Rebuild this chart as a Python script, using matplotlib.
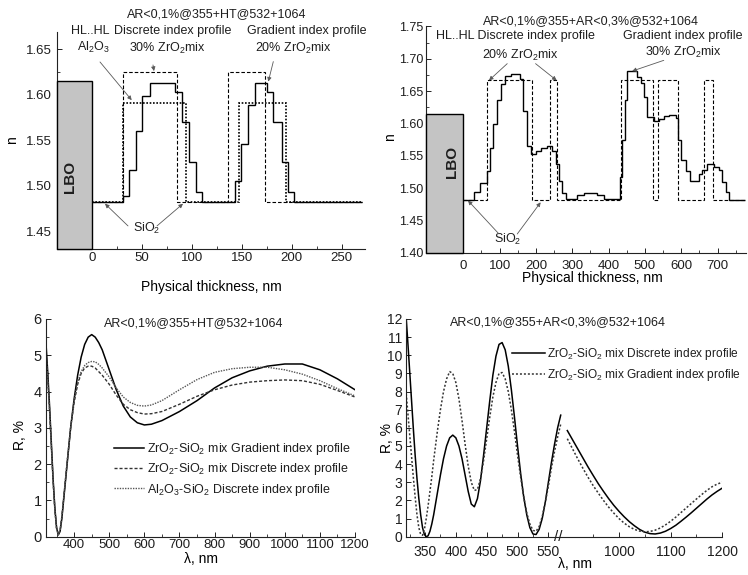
import numpy as np
import matplotlib
matplotlib.use("Agg")
import matplotlib.pyplot as plt
from matplotlib.patches import Rectangle
from matplotlib.ticker import MultipleLocator, FixedLocator

plt.rcParams["font.family"] = ["Liberation Sans", "DejaVu Sans"]
plt.rcParams["mathtext.fontset"] = "custom"
plt.rcParams["mathtext.rm"] = "Liberation Sans"
plt.rcParams["mathtext.it"] = "Liberation Sans:italic"
INK = "#1e1e1e"
plt.rcParams["text.color"] = INK
W, H = 748, 575

# ---------------- data ----------------
SIO2_N = 1.482
LBO_N = 1.615

# (a) AR<0,1%@355+HT@532+1064 : index profiles vs physical thickness (nm)
a_grad_edges = [0, 31, 37.7, 44.3, 50.3, 58.3, 83.7, 90.3, 97, 104.3, 110.3,
                143.7, 149.3, 156.3, 163, 175, 181.7, 190.3, 196.3, 202, 270]
a_grad_n = [1.482, 1.488, 1.517, 1.560, 1.598, 1.613, 1.603, 1.570, 1.526, 1.493,
            1.482, 1.505, 1.546, 1.589, 1.613, 1.603, 1.570, 1.526, 1.493, 1.482]
a_zr_edges = [0, 31, 85, 136, 173, 270]
a_zr_n = [1.482, 1.625, 1.482, 1.625, 1.482]
a_al_edges = [0, 31, 94, 147, 194, 270]
a_al_n = [1.482, 1.591, 1.482, 1.591, 1.482]

# (b) AR<0,1%@355+AR<0,3%@532+1064
b_grad_edges = [0, 29.4, 45.9, 66.1, 73.4, 82.6, 93.6, 102.8, 113.8, 130.3,
                156, 165.1, 174.3, 185.3, 199.1, 212.8, 229.4, 245, 254.1, 263.3,
                272.5, 281.7, 313.8, 332.1, 368.8, 387.2, 431.2, 437.6, 444, 451.4,
                478.9, 488.1, 497.2, 504.6, 524.8, 538.5, 552.3, 566.1, 584.4, 590.8,
                600, 611.9, 623.9, 648.6, 657.8, 671.6, 689.9, 703.7, 712.8, 722,
                731.2, 775]
b_grad_n = [1.482, 1.495, 1.508, 1.527, 1.563, 1.600, 1.636, 1.661, 1.673, 1.677,
            1.669, 1.620, 1.566, 1.553, 1.557, 1.563, 1.565, 1.558, 1.538, 1.512,
            1.492, 1.483, 1.489, 1.4925, 1.489, 1.483, 1.517, 1.574, 1.636, 1.682,
            1.672, 1.662, 1.641, 1.610, 1.604, 1.607, 1.611, 1.613, 1.609, 1.574,
            1.543, 1.527, 1.512, 1.522, 1.528, 1.537, 1.533, 1.528, 1.510, 1.494,
            1.482]
b_disc_edges = [0, 66, 188, 237.6, 258.7, 434.9, 523, 536.7, 590.8, 662.4, 686.2, 775]
b_disc_n = [1.482, 1.667, 1.482, 1.667, 1.482, 1.667, 1.482, 1.667, 1.482, 1.667, 1.482]

# (c) reflectance, HT design
c_lam = [320, 325, 330, 335, 340, 345, 350, 355, 360, 365, 370, 380, 390, 400, 410,
         420, 430, 440, 450, 460, 470, 480, 500, 520, 540, 560, 580, 600, 620, 650,
         700, 750, 800, 850, 900, 950, 1000, 1050, 1100, 1150, 1200]
c_zr_grad = [5.3, 4.5, 3.6, 2.6, 1.6, 0.8, 0.25, 0.05, 0.15, 0.5, 1.0, 2.0, 3.0, 3.8, 4.45,
             4.95, 5.3, 5.5, 5.57, 5.5, 5.35, 5.15, 4.6, 4.05, 3.6, 3.3, 3.14, 3.08, 3.1, 3.2,
             3.45, 3.75, 4.1, 4.38, 4.57, 4.7, 4.76, 4.76, 4.6, 4.35, 4.05]
c_zr_disc = [5.1, 4.35, 3.5, 2.5, 1.55, 0.75, 0.22, 0.05, 0.17, 0.55, 1.05, 2.05, 3.0, 3.7, 4.2,
             4.5, 4.65, 4.7, 4.7, 4.65, 4.55, 4.45, 4.2, 3.9, 3.65, 3.5, 3.42, 3.38, 3.39, 3.45,
             3.65, 3.87, 4.05, 4.18, 4.26, 4.3, 4.32, 4.3, 4.2, 4.03, 3.85]
c_al_disc = [5.0, 4.3, 3.45, 2.5, 1.55, 0.75, 0.22, 0.06, 0.18, 0.55, 1.05, 2.05, 3.0, 3.75, 4.25,
             4.55, 4.72, 4.8, 4.83, 4.82, 4.75, 4.65, 4.4, 4.1, 3.85, 3.7, 3.62, 3.6, 3.63, 3.75,
             4.05, 4.33, 4.53, 4.63, 4.67, 4.67, 4.6, 4.48, 4.3, 4.08, 3.88]

# (d) reflectance, AR@532+1064 design (broken wavelength axis)
d_lam_lo = [319, 322, 325, 328, 331, 334, 337, 340, 343, 346, 349, 352, 355, 358, 361,
            364, 367, 370, 375, 380, 385, 390, 395, 400, 405, 410, 415, 420, 425, 430,
            435, 440, 445, 450, 455, 460, 465, 470, 475, 480, 485, 490, 495, 500, 505,
            510, 515, 520, 525, 530, 535, 540, 545, 550, 555, 560, 565, 570]
d_disc_lo = [12.3, 10.8, 9.2, 7.6, 6.0, 4.5, 3.2, 2.1, 1.2, 0.5, 0.12, 0.0, 0.05, 0.3, 0.7,
             1.2, 1.8, 2.4, 3.4, 4.3, 5.0, 5.45, 5.6, 5.45, 5.0, 4.3, 3.4, 2.5, 1.8, 1.65,
             2.1, 3.1, 4.5, 6.0, 7.5, 8.9, 9.95, 10.6, 10.7, 10.3, 9.4, 8.1, 6.6, 5.0, 3.5,
             2.2, 1.2, 0.5, 0.15, 0.12, 0.4, 1.0, 1.9, 3.0, 4.1, 5.1, 6.0, 6.7]
d_grad_lo = [8.1, 6.9, 5.7, 4.5, 3.3, 2.2, 1.2, 0.5, 0.12, 0.08, 0.4, 1.0, 1.7, 2.5, 3.3,
             4.2, 5.0, 5.8, 7.0, 8.0, 8.7, 9.1, 9.0, 8.5, 7.6, 6.4, 5.1, 3.9, 3.0, 2.55,
             2.6, 3.2, 4.2, 5.4, 6.6, 7.7, 8.5, 9.0, 9.05, 8.7, 8.0, 7.0, 5.8, 4.5, 3.3,
             2.2, 1.3, 0.7, 0.35, 0.3, 0.55, 1.1, 1.9, 2.8, 3.8, 4.7, 5.5, 6.2]
d_lam_hi = [900, 910, 920, 930, 940, 950, 960, 970, 980, 990, 1000, 1010, 1020, 1030, 1040,
            1050, 1060, 1070, 1080, 1090, 1100, 1110, 1120, 1130, 1140, 1150, 1160, 1170,
            1180, 1190, 1200]
d_disc_hi = [5.85, 5.35, 4.85, 4.35, 3.85, 3.38, 2.92, 2.5, 2.1, 1.73, 1.4, 1.1, 0.83, 0.6,
             0.4, 0.25, 0.17, 0.15, 0.2, 0.3, 0.45, 0.63, 0.85, 1.08, 1.32, 1.57, 1.82, 2.07,
             2.3, 2.5, 2.68]
d_grad_hi = [5.4, 4.85, 4.3, 3.78, 3.28, 2.82, 2.4, 2.0, 1.63, 1.3, 1.0, 0.75, 0.55, 0.4,
             0.31, 0.27, 0.29, 0.36, 0.48, 0.65, 0.85, 1.08, 1.33, 1.58, 1.83, 2.08, 2.32,
             2.55, 2.75, 2.9, 3.0]

T_HT = "AR<0,1%@355+HT@532+1064"
T_AR = "AR<0,1%@355+AR<0,3%@532+1064"
ZR = r"ZrO$_\mathregular{2}$"
SI = r"SiO$_\mathregular{2}$"
AL = r"Al$_\mathregular{2}$O$_\mathregular{3}$"

DASH = (0, (3.2, 1.8))
DOT = (0, (1.0, 1.0))
ARROW = dict(arrowstyle="-|>", lw=0.6, color="0.35", shrinkA=0, shrinkB=0,
             mutation_scale=6)

fig = plt.figure(figsize=(W / 100, H / 100), dpi=100)


def px_axes(x0, y0, x1, y1):
    return fig.add_axes([x0 / W, 1 - y1 / H, (x1 - x0) / W, (y1 - y0) / H])


def frame(ax, xpad, ypad, size=9.5):
    for s in ("top", "right"):
        ax.spines[s].set_visible(False)
    for s in ("left", "bottom"):
        ax.spines[s].set_linewidth(0.8)
        ax.spines[s].set_color("#222")
    ax.tick_params(which="both", direction="in", color="#222", labelsize=size,
                   labelcolor=INK)
    ax.tick_params(which="major", length=3.5, width=0.7)
    ax.tick_params(which="minor", length=2, width=0.6)
    ax.tick_params(axis="x", pad=xpad)
    ax.tick_params(axis="y", pad=ypad)


def labels(ax, xl, xpos, yl, ypos):
    ax.set_xlabel(xl, fontsize=10)
    ax.set_ylabel(yl, fontsize=10)
    ax.xaxis.label.set_va("center")
    ax.yaxis.label.set_va("center")
    ax.xaxis.set_label_coords(xpos[0] / W, 1 - xpos[1] / H, transform=fig.transFigure)
    ax.yaxis.set_label_coords(ypos[0] / W, 1 - ypos[1] / H, transform=fig.transFigure)


def substrate(ax, txt_xy):
    x0, _ = ax.get_xlim()
    y0, _ = ax.get_ylim()
    ax.add_patch(Rectangle((x0, y0), -x0, LBO_N - y0, fc="#c4c4c4", ec="k",
                           lw=1.0, zorder=4, clip_on=False))
    ax.text(*txt_xy, "LBO", rotation=90, ha="center", va="center", fontsize=11,
            fontweight="bold", zorder=5)


# ---------- (a) top left ----------
ax1 = px_axes(57.3, 31.7, 365, 249)
ax1.set_xlim(-34.4, 273.3)
ax1.set_ylim(1.4302, 1.6693)
ax1.stairs(a_al_n, a_al_edges, baseline=None, color="k", lw=1.2, ls=DOT)
ax1.stairs(a_zr_n, a_zr_edges, baseline=None, color="k", lw=0.8, ls=DASH)
ax1.stairs(a_grad_n, a_grad_edges, baseline=None, color="k", lw=1.0)
substrate(ax1, (-21.7, 1.51))
ax1.xaxis.set_major_locator(FixedLocator(range(0, 251, 50)))
ax1.xaxis.set_minor_locator(FixedLocator(range(25, 276, 50)))
ax1.set_yticks([1.45, 1.50, 1.55, 1.60, 1.65])
ax1.yaxis.set_minor_locator(MultipleLocator(0.025))
frame(ax1, 2.5, 4)
labels(ax1, "Physical thickness, nm", (211.7, 286.7), "n", (12, 140))
for s, xy in [(T_HT, (125.3, 1.6888)), ("HL..HL", (-1.7, 1.670)),
              ("Discrete index profile", (81.3, 1.670)),
              ("Gradient index profile", (215.3, 1.670)),
              (AL, (1.3, 1.6525)), ("30% " + ZR + "mix", (75.3, 1.6514)),
              ("20% " + ZR + "mix", (201.3, 1.6514)), (SI, (55.3, 1.4525))]:
    ax1.text(*xy, s, ha="center", va="center", fontsize=9)
for tail, head in [((8.3, 1.636), (40, 1.594)), ((61.3, 1.6327), (62.3, 1.626)),
                   ((181.6, 1.6364), (176.6, 1.6144)), ((36.3, 1.4556), (13.3, 1.480)),
                   ((65.3, 1.4556), (91.3, 1.480))]:
    ax1.annotate("", xy=head, xytext=tail, arrowprops=ARROW, annotation_clip=False)

# ---------- (b) top right ----------
ax2 = px_axes(425.5, 26.5, 745.5, 253)
ax2.set_xlim(-104, 777)
ax2.set_ylim(1.40, 1.75)
ax2.stairs(b_disc_n, b_disc_edges, baseline=None, color="k", lw=0.8, ls=DASH)
ax2.stairs(b_grad_n, b_grad_edges, baseline=None, color="k", lw=1.0)
substrate(ax2, (-32, 1.540))
ax2.xaxis.set_major_locator(FixedLocator(range(0, 701, 100)))
ax2.xaxis.set_minor_locator(FixedLocator(range(50, 751, 100)))
ax2.set_yticks(np.arange(1.40, 1.76, 0.05))
ax2.yaxis.set_minor_locator(MultipleLocator(0.025))
frame(ax2, 5, 1.5)
ax2.tick_params(axis="y", labelsize=9)
labels(ax2, "Physical thickness, nm", (592.3, 278.3), "n", (390, 136.7))
for s, xy in [(T_AR, (352, 1.7585)), ("HL..HL Discrete index profile", (144, 1.7348)),
              ("Gradient index profile", (605.4, 1.7348)),
              ("20% " + ZR + "mix", (158, 1.7054)), ("30% " + ZR + "mix", (607, 1.7105)),
              (SI, (121, 1.4217))]:
    ax2.text(*xy, s, ha="center", va="center", fontsize=9)
for tail, head in [((121, 1.6926), (70.7, 1.6667)), ((199, 1.6926), (257, 1.6667)),
                   ((552, 1.6977), (465, 1.6811)), ((98.3, 1.4294), (13, 1.481)),
                   ((148.6, 1.4294), (213, 1.4783))]:
    ax2.annotate("", xy=head, xytext=tail, arrowprops=ARROW, annotation_clip=False)

# ---------- (c) bottom left ----------
ax3 = px_axes(45.7, 319, 355, 536.7)
ax3.plot(c_lam, c_zr_grad, color="k", lw=1.1,
         label=ZR + "-" + SI + " mix Gradient index profile")
ax3.plot(c_lam, c_zr_disc, color="#333", lw=1.0, ls=(0, (2.2, 1.4)),
         label=ZR + "-" + SI + " mix Discrete index profile")
ax3.plot(c_lam, c_al_disc, color="#555", lw=1.0, ls=(0, (1.0, 0.9)),
         label=AL + "-" + SI + " Discrete index profile")
ax3.set_xlim(319, 1200)
ax3.set_ylim(0, 6)
ax3.xaxis.set_major_locator(MultipleLocator(100))
ax3.xaxis.set_minor_locator(MultipleLocator(50))
ax3.yaxis.set_major_locator(MultipleLocator(1))
ax3.yaxis.set_minor_locator(MultipleLocator(0.5))
frame(ax3, 2, 3)
ax3.tick_params(axis="y", labelsize=10.5)
labels(ax3, "λ, nm", (200.7, 559), "R, %", (20, 435))
ax3.text(742, 5.88, T_HT, ha="center", va="center", fontsize=9)
ax3.legend(loc="upper left", bbox_to_anchor=(0.222, 0.44), frameon=False, fontsize=9,
           handlelength=2.4, handletextpad=0.25, labelspacing=0.35, borderpad=0,
           borderaxespad=0)

# ---------- (d) bottom right, broken wavelength axis ----------
BRK_LO, BRK_HI = 570, 900
K_LO, K_HI, GAP = 0.6167, 0.5165, 6.6


def fwd(x):
    x = np.asarray(x, dtype=float)
    u1 = BRK_LO * K_LO
    return np.where(x <= BRK_LO, x * K_LO,
                    np.where(x >= BRK_HI, u1 + GAP + (x - BRK_HI) * K_HI,
                             u1 + (x - BRK_LO) * GAP / (BRK_HI - BRK_LO)))


def inv(u):
    u = np.asarray(u, dtype=float)
    u1 = BRK_LO * K_LO
    u2 = u1 + GAP
    return np.where(u <= u1, u / K_LO,
                    np.where(u >= u2, BRK_HI + (u - u2) / K_HI,
                             BRK_LO + (u - u1) * (BRK_HI - BRK_LO) / GAP))


ax4 = px_axes(405.7, 319, 722.3, 536.7)
ax4.set_xscale("function", functions=(fwd, inv))
ax4.plot(d_lam_lo, d_disc_lo, color="k", lw=1.1,
         label=ZR + "-" + SI + " mix Discrete index profile")
ax4.plot(d_lam_lo, d_grad_lo, color="#333", lw=1.1, ls=(0, (1.3, 1.3)),
         label=ZR + "-" + SI + " mix Gradient index profile")
ax4.plot(d_lam_hi, d_disc_hi, color="k", lw=1.1)
ax4.plot(d_lam_hi, d_grad_hi, color="#333", lw=1.1, ls=(0, (1.3, 1.3)))
ax4.set_xlim(318.7, 1200)
ax4.set_ylim(0, 12)
ax4.xaxis.set_major_locator(FixedLocator([350, 400, 450, 500, 550, 1000, 1100, 1200]))
ax4.xaxis.set_minor_locator(FixedLocator([325, 375, 425, 475, 525, 950, 1050, 1150]))
ax4.set_xticklabels(["350", "400", "450", "500", "550", "1000", "1100", "1200"])
ax4.yaxis.set_major_locator(MultipleLocator(1))
frame(ax4, 6, 2.5, size=10)
labels(ax4, "λ, nm", (575, 564), "R, %", (387.3, 438))
ax4.text(0.481, 0.985, T_AR, transform=ax4.transAxes, ha="center", va="center",
         fontsize=9)
ax4.text(566, 0, "//", transform=ax4.get_xaxis_transform(), ha="center",
         va="center", fontsize=11, clip_on=False)
ax4.legend(loc="upper left", bbox_to_anchor=(0.337, 0.877), frameon=False, fontsize=8.6,
           handlelength=2.7, handletextpad=0.2, labelspacing=0.45, borderpad=0,
           borderaxespad=0)

fig.savefig("out.png", dpi=100)
